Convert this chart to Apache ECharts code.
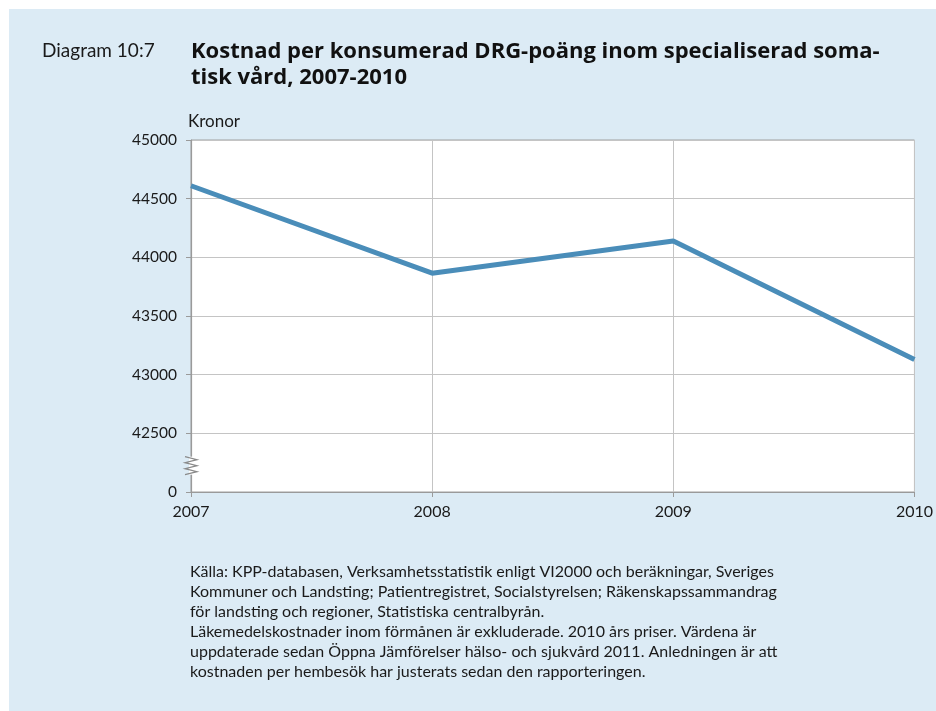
<!DOCTYPE html>
<html>
<head>
<meta charset="utf-8">
<script src="https://cdn.jsdelivr.net/npm/echarts@6/dist/echarts.min.js"></script>
<style>
  html, body { margin: 0; padding: 0; background: #ffffff; }
  #chart { position: absolute; left: 9px; top: 9px; width: 927px; height: 702px; }
</style>
</head>
<body>
<div id="chart"></div>
<script>
// ---- data ----
const years = ['2007', '2008', '2009', '2010'];
const costs = [44610, 43865, 44140, 43130];
const yTicks = [42000, 42500, 43000, 43500, 44000, 44500, 45000];
const brokenBase = 42000;      // shown as "0" (broken axis)
const titleLabel = 'Diagram 10:7';
const titleText = 'Kostnad per konsumerad DRG-poäng inom specialiserad soma-\ntisk vård, 2007-2010';
const unitText = 'Kronor';
const noteLines = [
  'Källa: KPP-databasen, Verksamhetsstatistik enligt VI2000 och beräkningar, Sveriges',
  'Kommuner och Landsting; Patientregistret, Socialstyrelsen; Räkenskapssammandrag',
  'för landsting och regioner, Statistiska centralbyrån.',
  'Läkemedelskostnader inom förmånen är exkluderade. 2010 års priser. Värdena är',
  'uppdaterade sedan Öppna Jämförelser hälso- och sjukvård 2011. Anledningen är att',
  'kostnaden per hembesök har justerats sedan den rapporteringen.'
];

const FONT = 'Lato, "DejaVu Sans", sans-serif';
const chart = echarts.init(document.getElementById('chart'));
const option = {
  backgroundColor: '#dcebf5',
  animation: false,
  textStyle: { fontFamily: FONT },
  title: [
    { text: titleLabel, left: 33, top: 32, padding: 0,
      textStyle: { fontFamily: FONT, fontSize: 19, fontWeight: 'normal', color: '#1a1a1a' } },
    { text: titleText, left: 182, top: 30, padding: 0,
      textStyle: { fontFamily: '"Open Sans", Lato, sans-serif', fontSize: 22, fontWeight: 'bold', color: '#111', lineHeight: 26 } },
    { text: unitText, left: 179, top: 104, padding: 0,
      textStyle: { fontFamily: FONT, fontSize: 17, fontWeight: 'normal', color: '#1a1a1a' } },
    { text: noteLines.join('\n'), left: 181, top: 553, padding: 0,
      textStyle: { fontFamily: FONT, fontSize: 16, fontWeight: 'normal', color: '#1a1a1a', lineHeight: 19.9 } }
  ],
  grid: { left: 182, right: 15, top: 131, bottom: 219, show: true,
          backgroundColor: '#ffffff', borderColor: '#a0a0a0', borderWidth: 1 },
  xAxis: {
    type: 'category', data: years, boundaryGap: false,
    axisLine: { lineStyle: { color: '#9a9a9a', width: 1.2 } },
    axisTick: { show: true, length: 5, lineStyle: { color: '#9a9a9a' } },
    axisLabel: { fontFamily: FONT, fontSize: 16, color: '#1a1a1a', margin: 12 },
    splitLine: { show: true, lineStyle: { color: '#c4c4c4', width: 1 } }
  },
  yAxis: {
    type: 'value', min: yTicks[0], max: yTicks[yTicks.length - 1], interval: 500,
    axisLine: { show: true, lineStyle: { color: '#9a9a9a', width: 1.2 } },
    axisTick: { show: true, length: 5, lineStyle: { color: '#9a9a9a' } },
    axisLabel: { fontFamily: FONT, fontSize: 15.5, color: '#1a1a1a', margin: 14,
      formatter: v => (v === brokenBase ? '0' : String(v)) },
    splitLine: { show: true, lineStyle: { color: '#c4c4c4', width: 1.2 } }
  },
  series: [{
    type: 'line', data: costs, symbol: 'none',
    lineStyle: { color: '#4a8db9', width: 5 }
  }]
};
chart.setOption(option);

// axis break symbol between 0 and 42500
const p = chart.convertToPixel({ gridIndex: 0 }, [0, (yTicks[0] + yTicks[1]) / 2]);
const bx = p[0], by = p[1] + 3;
const zig = [];
for (let i = 0; i <= 6; i++) {
  zig.push([bx + (i % 2 === 0 ? -6 : 6), by - 9 + i * 3]);
}
chart.setOption({
  graphic: [
    { type: 'rect', shape: { x: bx - 2, y: by - 9, width: 4, height: 18 },
      style: { fill: '#ffffff' }, z: 100 },
    { type: 'polyline', shape: { points: zig },
      style: { stroke: '#8a8a8a', lineWidth: 1.2, fill: null }, z: 101 }
  ]
});
</script>
</body>
</html>
